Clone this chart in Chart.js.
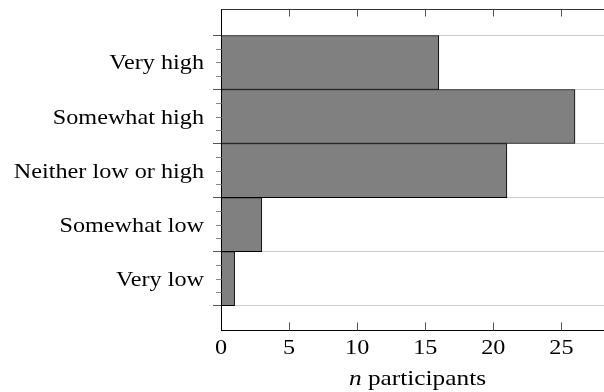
<!DOCTYPE html>
<html>
<head>
<meta charset="utf-8">
<script src="https://cdn.jsdelivr.net/npm/chart.js@4/dist/chart.umd.min.js"></script>
<style>
  html, body { margin: 0; padding: 0; background: #fff; }
  #wrap { width: 604px; height: 392px; }
</style>
</head>
<body>
<div id="wrap"><canvas id="c" width="604" height="392"></canvas></div>
<script>
// Self-rated level, top to bottom
const categories = ['Very high', 'Somewhat high', 'Neither low or high', 'Somewhat low', 'Very low'];
// Number of participants per level
const participants = [16, 26, 21, 3, 1];
// Value-axis tick labels
const xTickValues = [0, 5, 10, 15, 20, 25];
const xAxisTitle = { italic: 'n', rest: ' participants' };

const FONT_FAMILY = '"Liberation Serif", "Times New Roman", serif';
const FONT_SIZE = 22;
const STRETCH = 1.1;

// category boundaries (between bands) and minor tick positions
const boundaries = categories.map((_, i) => i - 0.5).concat([categories.length - 0.5]);
const minorTicks = [];
categories.forEach((_, i) => { minorTicks.push(i - 0.25, i, i + 0.25); });

function drawStretched(ctx, text, x, y, align, sx) {
  ctx.save();
  ctx.translate(x, y);
  ctx.scale(sx, 1);
  ctx.textAlign = align;
  ctx.textBaseline = 'alphabetic';
  ctx.fillText(text, 0, 0);
  ctx.restore();
}

const frameAndLabels = {
  id: 'frameAndLabels',
  afterDatasetsDraw(chart) {
    const { ctx, chartArea: a, scales: { x, y } } = chart;
    const L = Math.round(a.left) + 0.5;
    const T = Math.round(a.top) + 0.5;
    const B = Math.round(a.bottom) - 0.5;
    const R = a.right;

    ctx.save();
    // axis frame: left, top, bottom
    ctx.lineWidth = 1;
    ctx.strokeStyle = '#000';
    ctx.beginPath();
    ctx.moveTo(L, T - 0.5); ctx.lineTo(L, B + 0.5);
    ctx.moveTo(L, B); ctx.lineTo(R, B);
    ctx.stroke();
    ctx.strokeStyle = '#333';
    ctx.beginPath();
    ctx.moveTo(L, T); ctx.lineTo(R, T);
    ctx.stroke();

    // inward ticks on top and bottom
    ctx.strokeStyle = '#555';
    ctx.beginPath();
    xTickValues.forEach(v => {
      if (v === 0) return;
      const px = Math.round(x.getPixelForValue(v)) + 0.5;
      ctx.moveTo(px, T); ctx.lineTo(px, T + 7);
      ctx.moveTo(px, B); ctx.lineTo(px, B - 8);
    });
    ctx.stroke();

    // short outward minor ticks on the category axis
    ctx.strokeStyle = '#8a8a8a';
    ctx.beginPath();
    minorTicks.forEach(v => {
      const py = Math.round(y.getPixelForValue(v)) + 0.5;
      ctx.moveTo(L - 5.5, py); ctx.lineTo(L, py);
    });
    ctx.stroke();

    // text
    ctx.fillStyle = '#000';
    ctx.font = FONT_SIZE + 'px ' + FONT_FAMILY;
    categories.forEach((c, i) => {
      drawStretched(ctx, c, a.left - 17, y.getPixelForValue(i) + 7, 'right', STRETCH);
    });
    xTickValues.forEach(v => {
      drawStretched(ctx, String(v), x.getPixelForValue(v), B + 23, 'center', STRETCH);
    });

    // axis title: italic n followed by regular text
    const titleStretch = 1.15;
    const italicFont = 'italic ' + FONT_SIZE + 'px ' + FONT_FAMILY;
    const regFont = FONT_SIZE + 'px ' + FONT_FAMILY;
    ctx.font = italicFont;
    const wN = ctx.measureText(xAxisTitle.italic).width;
    ctx.font = regFont;
    const wR = ctx.measureText(xAxisTitle.rest).width;
    const cx = (a.left + a.right) / 2 + 5;
    const startX = cx - (wN + wR) * titleStretch / 2;
    ctx.save();
    ctx.translate(startX, B + 54);
    ctx.scale(titleStretch, 1);
    ctx.textAlign = 'left';
    ctx.textBaseline = 'alphabetic';
    ctx.font = italicFont;
    ctx.fillText(xAxisTitle.italic, 0, 0);
    ctx.font = regFont;
    ctx.fillText(xAxisTitle.rest, wN, 0);
    ctx.restore();

    ctx.restore();
  }
};

new Chart(document.getElementById('c'), {
  type: 'bar',
  data: {
    datasets: [{
      data: participants.map((v, i) => ({ x: v, y: i })),
      backgroundColor: '#808080',
      borderColor: '#000',
      borderWidth: 1,
      borderSkipped: false,
      barPercentage: 1,
      categoryPercentage: 1
    }]
  },
  options: {
    indexAxis: 'y',
    responsive: false,
    animation: false,
    devicePixelRatio: 1,
    layout: { padding: { top: 9, left: 0, right: 0, bottom: 0 } },
    plugins: { legend: { display: false }, tooltip: { enabled: false } },
    scales: {
      x: {
        type: 'linear',
        min: 0,
        max: 28.13,
        grid: { display: false },
        border: { display: false },
        ticks: { display: false },
        afterFit: s => { s.height = 61; }
      },
      y: {
        type: 'linear',
        reverse: true,
        offset: false,
        min: -0.99,
        max: 4.97,
        afterBuildTicks: s => { s.ticks = boundaries.map(v => ({ value: v })); },
        grid: {
          offset: false,
          color: '#cdcdcd',
          lineWidth: 1,
          drawTicks: true,
          tickLength: 8,
          tickColor: '#555'
        },
        border: { display: false },
        ticks: { display: false },
        afterFit: s => { s.width = 221; }
      }
    }
  },
  plugins: [frameAndLabels]
});
</script>
</body>
</html>
